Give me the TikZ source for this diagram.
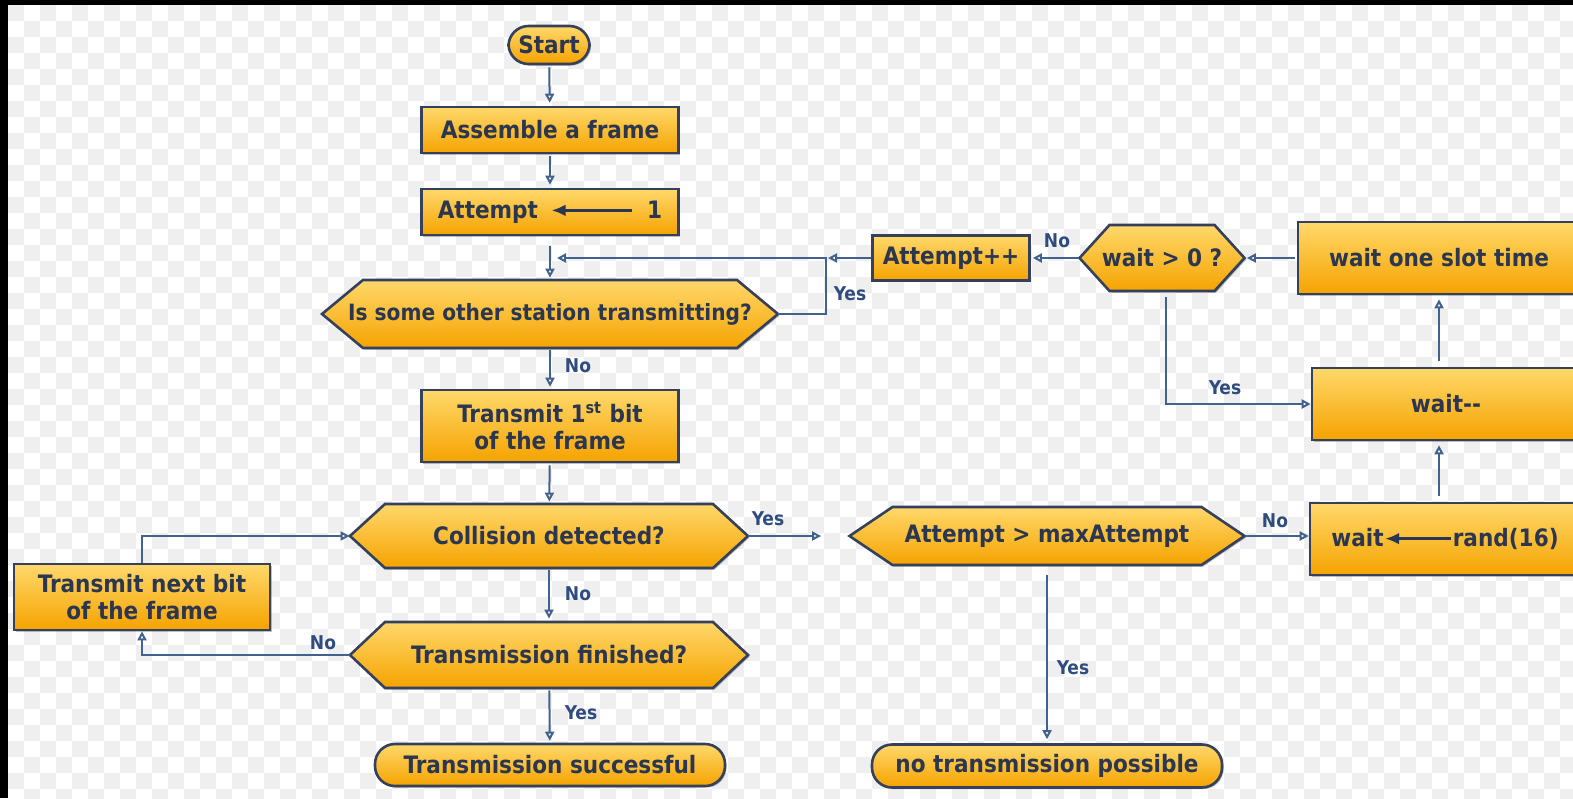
\documentclass[tikz,border=0pt]{standalone}
\usepackage{fontspec}
\setmainfont{DejaVu Sans Condensed}[BoldFont={DejaVu Sans Condensed Bold}]
\usetikzlibrary{arrows.meta,shadows,calc}
\definecolor{topc}{HTML}{FFD86B}
\definecolor{botc}{HTML}{F5A300}
\definecolor{bordc}{HTML}{34405C}
\definecolor{txtc}{HTML}{2B3650}
\definecolor{connc}{HTML}{41618F}
\definecolor{labc}{HTML}{2F4C80}
\definecolor{bgsq}{HTML}{EFEFEF}
\newcommand\larrow[1]{\tikz[baseline=-0.6ex]\draw[-{Latex[length=7pt,width=6pt]},line width=1.6pt,txtc] (#1pt,0pt) -- (0pt,0pt);}
\newcommand\hexnode[7]{%
  \path[hexfill] (#2-#4/2,#3) -- (#2-#4/2+#6,#3-#5/2) -- (#2+#4/2-#6,#3-#5/2) -- (#2+#4/2,#3)
     -- (#2+#4/2-#6,#3+#5/2) -- (#2-#4/2+#6,#3+#5/2) -- cycle;
  \node[hextext,minimum width=#4*0.5pt,minimum height=#5*0.5pt] (#1) at (#2,#3) {#7};}
\begin{document}
\begin{tikzpicture}[x=0.5pt,y=-0.5pt,
  mainfont/.style={font=\fontsize{12}{13.5}\selectfont\bfseries},
  shad/.style={drop shadow={shadow xshift=0.8pt,shadow yshift=-0.8pt,fill=black,opacity=0.25}},
  box/.style={draw=bordc,line width=1.3pt,top color=topc,bottom color=botc,text=txtc,
     mainfont,inner sep=0pt,align=center,shad},
  pill/.style={box,rounded corners=10pt},
  hexfill/.style={draw=bordc,line width=1.3pt,top color=topc,bottom color=botc,shad},
  hextext/.style={draw=none,text=txtc,mainfont,inner sep=0pt,align=center},
  conn/.style={draw=connc,line width=1pt,-{Triangle[open,length=4.5pt,width=4.5pt,fill=white]}},
  lab/.style={text=labc,font=\fontsize{9.5}{11}\selectfont\bfseries,inner sep=0pt}]
\useasboundingbox (0,0) rectangle (1573,798);
\clip (0,0) rectangle (1573,798);
\fill[white] (0,0) rectangle (1573,798);
\foreach \j in {0,...,49}{
  \pgfmathsetmacro\off{mod(\j,2)*16}
  \foreach \i in {0,32,...,1568}{
    \fill[bgsq] (8+\i+\off,5+\j*16) rectangle ++(16,16);}}
\fill[black] (0,0) rectangle (1573,5);
\fill[black] (0,0) rectangle (8,798);

% nodes
\node[pill,minimum width=81*0.5pt,minimum height=38*0.5pt] (start) at (549,45) {Start};
\node[box,minimum width=257*0.5pt,minimum height=46*0.5pt] (assemble) at (550,130) {Assemble a frame};
\node[box,minimum width=257*0.5pt,minimum height=46*0.5pt] (attempt) at (550,212) {Attempt\hspace{6pt}\larrow{40}\hspace{7pt}1};
\hexnode{busy}{550}{314}{456}{68}{41}{\fontsize{11.2}{13}\selectfont Is some other station transmitting?}
\node[box,minimum width=257*0.5pt,minimum height=72*0.5pt] (tx1) at (550,426) {Transmit 1\textsuperscript{st} bit\\of the frame};
\hexnode{coll}{549}{536}{398}{64}{35}{Collision detected?}
\hexnode{fin}{549}{655}{398}{66}{35}{Transmission finished?}
\node[pill,minimum width=350*0.5pt,minimum height=42*0.5pt] (succ) at (550,765) {Transmission successful};
\node[box,minimum width=256*0.5pt,minimum height=66*0.5pt] (txn) at (142,597) {Transmit next bit\\of the frame};
\hexnode{maxa}{1047}{536}{395}{58}{43}{Attempt > maxAttempt}
\node[pill,minimum width=350*0.5pt,minimum height=43*0.5pt] (notx) at (1047,766) {no transmission possible};
\node[box,minimum width=270*0.5pt,minimum height=72*0.5pt] (rand) at (1445,539) {wait\larrow{33}rand(16)};
\node[box,minimum width=268*0.5pt,minimum height=72*0.5pt] (dec) at (1446,404) {wait-{}-};
\node[box,minimum width=282*0.5pt,minimum height=72*0.5pt] (slot) at (1439,258) {wait one slot time};
\hexnode{wpos}{1162}{258}{165}{66}{30}{wait > 0 ?}
\node[box,minimum width=157*0.5pt,minimum height=45*0.5pt] (inc) at (951,258) {Attempt++};

% connectors
\coordinate (j1) at (826,258);
\coordinate (j2) at (557,258);
\draw[conn,shorten <=1pt,shorten >=1.5pt] (start) -- (assemble);
\draw[conn,shorten <=1pt,shorten >=1.5pt] (assemble) -- (attempt);
\draw[conn,shorten <=5pt,shorten >=1pt] (attempt) -- (busy);
\draw[conn] (busy.east) -| (j1) -- (j2);
\draw[conn] (inc.west) -- ($(j1)+(2,0)$);
\draw[conn,shorten <=1pt,shorten >=1pt] (busy) -- (tx1);
\draw[conn,shorten <=1pt,shorten >=1pt] (tx1) -- (coll);
\draw[conn,shorten <=1pt,shorten >=1.5pt] (coll) -- (fin);
\draw[conn] (fin.west) -| (txn.south);
\draw[conn] (txn.north) |- (coll.west);
\draw[conn,shorten <=1pt,shorten >=1pt] (fin) -- (succ);
\draw[conn,shorten >=14pt] (coll.east) -- (maxa.west);
\draw[conn] (maxa.east) -- (maxa.east -| rand.west);
\draw[conn,shorten <=5pt,shorten >=2pt] (maxa) -- (notx);
\draw[conn,shorten <=3pt,shorten >=2pt] (slot |- rand.north) -- (slot |- dec.south);
\draw[conn,shorten <=3pt,shorten >=2pt] (slot |- dec.north) -- (slot.south);
\draw[conn,shorten <=1pt,shorten >=1pt] (slot.west) -- (wpos.east);
\draw[conn,shorten >=1pt] (wpos.west) -- (inc.east);
\draw[conn,shorten <=3pt] ([xshift=2pt]wpos.south) |- (dec.west);

% labels
\node[lab] (l1) at (850,294) {Yes};
\node[lab] (l2) at (578,366) {No};
\node[lab] (l3) at (578,594) {No};
\node[lab] (l4) at (323,643) {No};
\node[lab] (l5) at (581,713) {Yes};
\node[lab] (l6) at (768,519) {Yes};
\node[lab] (l7) at (1275,521) {No};
\node[lab] (l8) at (1073,668) {Yes};
\node[lab] (l9) at (1057,241) {No};
\node[lab] (l10) at (1225,388) {Yes};
\end{tikzpicture}
\end{document}
